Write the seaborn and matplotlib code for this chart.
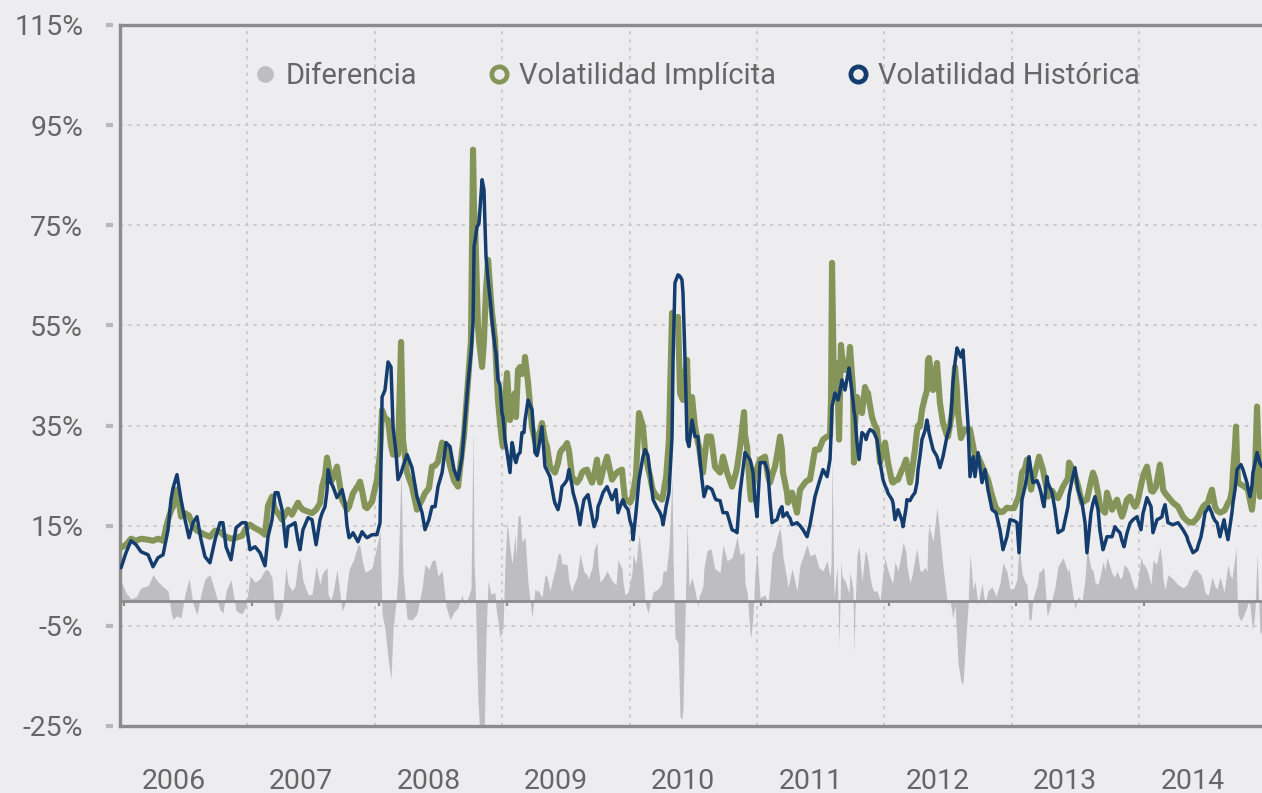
import matplotlib
matplotlib.use('Agg')
import matplotlib.pyplot as plt
from matplotlib.lines import Line2D
import numpy as np
import pandas as pd
import seaborn as sns

# fechas en años decimales, volatilidades en %
fecha_2006 = [2006.008, 2006.047, 2006.086, 2006.126, 2006.165, 2006.220, 2006.259, 2006.298,
              2006.338, 2006.377, 2006.400, 2006.416, 2006.447, 2006.479, 2006.510, 2006.542,
              2006.573, 2006.604, 2006.636, 2006.667, 2006.706, 2006.746, 2006.785, 2006.808,
              2006.832, 2006.871, 2006.911, 2006.958, 2006.989]
impl_2006 = [10.6, 11.2, 12.4, 12.0, 12.4, 12.2, 12.0, 12.4, 12.0, 16.2, 18.0, 18.8, 22.2, 16.8,
             17.5, 17.0, 15.0, 14.0, 13.6, 13.2, 12.8, 14.0, 13.8, 13.2, 12.8, 12.4, 12.6, 13.0, 14.5]
hist_2006 = [6.6, 9.6, 12.0, 11.2, 9.8, 9.2, 6.8, 8.6, 9.2, 14.2, 20.2, 22.5, 25.2, 20.2,
             16.2, 12.6, 15.6, 16.8, 12.2, 8.8, 7.6, 12.2, 15.6, 15.6, 10.8, 8.2, 14.6, 15.6, 15.6]

fecha_2007 = [2007.020, 2007.060, 2007.099, 2007.138, 2007.162, 2007.193, 2007.217, 2007.240,
              2007.272, 2007.303, 2007.319, 2007.350, 2007.374, 2007.397, 2007.413, 2007.436,
              2007.476, 2007.507, 2007.539, 2007.570, 2007.586, 2007.609, 2007.625, 2007.633,
              2007.656, 2007.672, 2007.703, 2007.743, 2007.766, 2007.782, 2007.798, 2007.821,
              2007.829, 2007.868, 2007.884, 2007.900, 2007.923, 2007.939, 2007.978]
impl_2007 = [15.2, 14.5, 14.0, 13.2, 19.0, 20.8, 18.2, 17.5, 16.2, 17.5, 18.2, 17.2, 18.5, 19.6,
             18.8, 18.2, 17.8, 17.5, 18.2, 19.5, 22.8, 25.0, 28.6, 27.5, 23.8, 24.5, 26.8, 20.2,
             19.0, 18.2, 18.8, 20.8, 21.5, 23.0, 23.8, 22.0, 18.8, 18.5, 19.8]
hist_2007 = [10.2, 10.8, 9.6, 7.0, 12.8, 16.2, 21.6, 21.6, 18.2, 10.8, 14.8, 15.2, 15.6, 12.0,
             10.2, 14.2, 16.6, 16.2, 11.2, 16.2, 17.5, 18.8, 22.0, 26.2, 23.6, 22.8, 20.6, 22.2,
             19.6, 15.0, 12.6, 13.2, 13.6, 11.8, 12.8, 13.8, 13.0, 12.6, 13.2]

fecha_2008 = [2008.017, 2008.041, 2008.057, 2008.080, 2008.104, 2008.127, 2008.143, 2008.166,
              2008.182, 2008.206, 2008.221, 2008.253, 2008.292, 2008.331, 2008.371, 2008.394,
              2008.425, 2008.449, 2008.473, 2008.496, 2008.528, 2008.559, 2008.590, 2008.622,
              2008.653, 2008.685, 2008.700, 2008.732, 2008.755, 2008.771, 2008.779, 2008.787,
              2008.802, 2008.810, 2008.818, 2008.842, 2008.857, 2008.865, 2008.873, 2008.889,
              2008.912, 2008.920, 2008.944, 2008.951, 2008.967, 2008.983, 2008.998]
impl_2008 = [24.2, 29.6, 38.1, 36.5, 36.1, 31.0, 29.2, 29.2, 29.2, 51.7, 32.2, 25.6, 22.8, 18.2,
             20.2, 21.5, 22.5, 26.8, 27.0, 27.8, 31.6, 30.5, 27.0, 24.0, 22.8, 30.0, 33.0, 44.1,
             52.0, 90.1, 78.0, 75.5, 62.0, 54.7, 52.0, 46.7, 52.0, 57.5, 62.0, 68.1, 60.0, 57.5,
             52.1, 48.0, 40.0, 35.5, 32.0]
hist_2008 = [13.2, 15.6, 40.7, 42.1, 47.7, 46.7, 34.8, 29.6, 24.2, 25.5, 26.8, 29.2, 26.6, 20.8,
             17.6, 14.2, 16.2, 18.8, 18.8, 22.8, 25.6, 31.6, 30.8, 26.2, 24.2, 28.8, 33.6, 43.5,
             49.5, 55.5, 70.7, 72.0, 74.7, 75.0, 75.5, 84.1, 82.1, 75.0, 68.7, 64.1, 58.7, 56.0,
             50.5, 49.5, 44.1, 43.0, 37.5]

fecha_2009 = [2009.006, 2009.022, 2009.038, 2009.061, 2009.077, 2009.085, 2009.100, 2009.108,
              2009.124, 2009.140, 2009.155, 2009.171, 2009.179, 2009.203, 2009.234, 2009.257,
              2009.273, 2009.281, 2009.312, 2009.336, 2009.352, 2009.375, 2009.407, 2009.414,
              2009.438, 2009.454, 2009.469, 2009.493, 2009.509, 2009.524, 2009.548, 2009.556,
              2009.587, 2009.611, 2009.626, 2009.642, 2009.666, 2009.674, 2009.705, 2009.721,
              2009.744, 2009.752, 2009.768, 2009.791, 2009.823, 2009.862, 2009.893, 2009.909,
              2009.940, 2009.948, 2009.964, 2009.988]
impl_2009 = [30.8, 40.0, 45.5, 36.1, 39.0, 40.0, 41.5, 36.7, 46.1, 46.7, 45.3, 46.0, 48.7, 43.5,
             34.8, 32.0, 30.8, 32.0, 35.5, 32.0, 30.8, 26.8, 25.8, 25.6, 27.5, 29.6, 30.2, 30.8,
             31.5, 30.0, 24.8, 24.5, 23.6, 24.5, 25.6, 26.0, 26.2, 25.5, 23.6, 25.0, 28.2, 26.0,
             23.6, 26.0, 28.8, 24.2, 25.4, 25.8, 26.2, 24.0, 20.2, 20.0]
hist_2009 = [36.7, 32.2, 29.6, 25.6, 31.6, 30.8, 28.2, 27.6, 29.2, 29.6, 33.6, 33.6, 36.0, 40.1,
             38.1, 29.6, 29.0, 29.8, 34.8, 26.8, 26.0, 24.8, 20.2, 19.5, 18.2, 20.0, 22.8, 23.5,
             24.2, 26.2, 23.0, 21.6, 18.8, 15.2, 18.0, 20.2, 21.0, 21.2, 17.0, 14.8, 16.5, 18.8,
             19.8, 21.6, 22.8, 20.2, 22.2, 17.6, 19.8, 20.2, 19.0, 18.2]

fecha_2010 = [2010.003, 2010.019, 2010.027, 2010.050, 2010.074, 2010.105, 2010.121, 2010.144,
              2010.160, 2010.176, 2010.184, 2010.215, 2010.239, 2010.254, 2010.262, 2010.278,
              2010.286, 2010.309, 2010.333, 2010.341, 2010.356, 2010.380, 2010.396, 2010.411,
              2010.419, 2010.435, 2010.451, 2010.466, 2010.490, 2010.513, 2010.537, 2010.545,
              2010.568, 2010.576, 2010.584, 2010.608, 2010.639, 2010.647, 2010.670, 2010.678,
              2010.710, 2010.733, 2010.765, 2010.804, 2010.835, 2010.843, 2010.867, 2010.898,
              2010.906, 2010.922, 2010.945, 2010.953, 2010.969, 2010.984]
impl_2010 = [19.6, 20.5, 21.5, 25.0, 37.5, 34.8, 30.0, 26.5, 25.0, 22.8, 22.0, 20.8, 20.5, 20.2,
             21.0, 23.6, 24.5, 32.2, 57.5, 57.0, 56.1, 56.7, 41.5, 40.5, 40.1, 45.0, 48.1, 33.6,
             40.7, 34.8, 31.5, 30.8, 26.5, 25.6, 27.5, 32.8, 32.8, 31.5, 26.8, 26.5, 25.6, 28.8,
             25.6, 22.8, 25.6, 26.5, 30.8, 37.7, 33.0, 30.8, 22.0, 20.2, 23.0, 25.6]
hist_2010 = [16.0, 14.8, 12.2, 17.6, 24.2, 28.8, 30.2, 29.0, 25.6, 22.0, 20.2, 18.6, 17.6, 16.5,
             15.2, 17.5, 18.8, 21.6, 32.8, 48.1, 63.5, 65.1, 64.8, 64.1, 61.5, 48.1, 32.2, 30.8,
             36.1, 32.8, 32.8, 30.0, 24.2, 22.5, 20.8, 22.8, 22.4, 22.2, 20.6, 20.2, 20.0, 17.6,
             17.6, 14.2, 13.8, 13.6, 21.6, 28.0, 29.6, 29.0, 28.2, 27.5, 25.6, 20.0]

fecha_2011 = [2011.000, 2011.024, 2011.063, 2011.086, 2011.102, 2011.118, 2011.141, 2011.157,
              2011.181, 2011.196, 2011.204, 2011.236, 2011.243, 2011.259, 2011.275, 2011.314,
              2011.338, 2011.361, 2011.377, 2011.393, 2011.416, 2011.455, 2011.487, 2011.518,
              2011.550, 2011.573, 2011.581, 2011.589, 2011.604, 2011.612, 2011.628, 2011.636,
              2011.644, 2011.659, 2011.667, 2011.691, 2011.722, 2011.730, 2011.746, 2011.754,
              2011.761, 2011.769, 2011.785, 2011.801, 2011.824, 2011.848, 2011.856, 2011.871,
              2011.887, 2011.903, 2011.918, 2011.942, 2011.966, 2011.989]
impl_2011 = [26.5, 28.2, 28.8, 25.0, 23.6, 25.0, 26.8, 29.0, 32.8, 30.0, 25.6, 21.6, 19.6, 21.0,
             21.6, 17.6, 22.2, 23.0, 23.6, 24.0, 24.2, 30.2, 30.2, 32.2, 32.8, 33.0, 40.0, 67.5,
             41.5, 44.0, 47.5, 40.0, 32.2, 51.1, 49.0, 46.1, 48.0, 50.7, 45.0, 42.1, 27.6, 35.0,
             40.7, 39.0, 37.5, 42.7, 42.0, 41.5, 39.0, 36.7, 35.5, 34.2, 27.6, 30.0]
hist_2011 = [16.8, 27.6, 27.6, 25.6, 20.0, 15.6, 16.0, 16.2, 18.2, 18.8, 16.8, 17.6, 17.0, 16.5,
             15.2, 15.6, 15.0, 14.2, 13.5, 12.8, 15.2, 20.8, 23.6, 26.2, 24.8, 28.2, 33.0, 38.8,
             40.5, 41.5, 40.5, 40.1, 41.0, 43.0, 44.1, 42.1, 46.5, 45.0, 41.5, 40.0, 38.0, 36.7,
             31.6, 28.2, 33.6, 33.0, 32.2, 33.5, 34.2, 34.0, 33.6, 32.2, 27.6, 24.2]

fecha_2012 = [2012.005, 2012.020, 2012.028, 2012.060, 2012.068, 2012.083, 2012.107, 2012.138,
              2012.146, 2012.170, 2012.177, 2012.201, 2012.217, 2012.240, 2012.256, 2012.264,
              2012.279, 2012.295, 2012.319, 2012.334, 2012.342, 2012.350, 2012.382, 2012.413,
              2012.436, 2012.460, 2012.491, 2012.499, 2012.515, 2012.531, 2012.538, 2012.554,
              2012.570, 2012.578, 2012.601, 2012.617, 2012.633, 2012.656, 2012.672, 2012.696,
              2012.711, 2012.735, 2012.766, 2012.790, 2012.813, 2012.845, 2012.876, 2012.907,
              2012.931, 2012.962, 2012.986]
impl_2012 = [31.6, 29.0, 27.6, 23.8, 23.6, 24.0, 24.2, 26.2, 26.5, 28.2, 27.0, 23.6, 26.0, 30.2,
             34.0, 35.0, 34.8, 38.1, 40.7, 42.0, 48.1, 48.5, 42.1, 47.5, 39.5, 35.5, 33.0, 32.8,
             35.0, 37.5, 40.0, 46.7, 42.0, 37.5, 32.5, 33.5, 34.2, 34.2, 34.2, 31.0, 28.8, 28.8,
             27.0, 25.5, 24.2, 21.0, 18.5, 17.7, 17.8, 18.6, 18.5]
hist_2012 = [23.0, 22.2, 21.5, 20.2, 19.5, 16.2, 18.2, 16.0, 14.8, 18.5, 20.2, 20.0, 20.8, 21.6,
             23.6, 26.2, 28.8, 32.2, 34.0, 36.1, 35.0, 33.6, 30.2, 28.8, 26.6, 28.8, 32.8, 33.5,
             34.8, 40.0, 43.5, 47.5, 50.5, 50.0, 48.7, 50.1, 44.1, 35.5, 24.8, 28.8, 24.8, 29.6,
             23.6, 26.2, 22.2, 18.2, 17.6, 14.2, 10.2, 12.8, 16.2]

fecha_2013 = [2013.017, 2013.041, 2013.057, 2013.080, 2013.104, 2013.119, 2013.135, 2013.151,
              2013.166, 2013.182, 2013.198, 2013.214, 2013.229, 2013.245, 2013.253, 2013.276,
              2013.284, 2013.316, 2013.339, 2013.363, 2013.402, 2013.441, 2013.449, 2013.473,
              2013.496, 2013.520, 2013.551, 2013.575, 2013.590, 2013.622, 2013.637, 2013.653,
              2013.677, 2013.692, 2013.716, 2013.732, 2013.747, 2013.787, 2013.810, 2013.826,
              2013.849, 2013.865, 2013.881, 2013.904, 2013.928, 2013.951, 2013.967, 2013.983,
              2013.991]
impl_2013 = [18.5, 20.0, 21.0, 25.6, 26.5, 28.2, 25.0, 22.2, 24.0, 25.6, 27.0, 28.8, 27.5, 26.2,
             25.0, 22.0, 20.8, 22.0, 21.0, 20.5, 22.8, 24.5, 27.6, 26.5, 25.0, 23.0, 19.6, 20.0,
             20.2, 24.0, 25.6, 24.5, 21.5, 18.8, 18.0, 17.6, 21.6, 18.2, 19.5, 20.2, 18.0, 16.8,
             18.0, 20.2, 20.8, 19.5, 18.8, 19.5, 20.2]
hist_2013 = [16.0, 15.6, 9.6, 20.2, 22.8, 25.0, 28.8, 26.0, 23.6, 23.8, 24.0, 23.0, 21.6, 19.5,
             18.8, 24.8, 23.5, 21.6, 18.2, 13.6, 14.2, 18.8, 21.0, 24.2, 26.6, 22.2, 19.6, 15.6,
             9.6, 17.6, 19.5, 20.8, 18.2, 14.0, 10.2, 11.5, 12.8, 12.8, 14.8, 14.2, 13.6, 12.0,
             10.8, 13.5, 15.5, 16.2, 16.5, 16.8, 16.0]

fecha_2014 = [2014.014, 2014.030, 2014.038, 2014.061, 2014.093, 2014.108, 2014.132, 2014.140,
              2014.163, 2014.179, 2014.187, 2014.203, 2014.226, 2014.265, 2014.305, 2014.344,
              2014.375, 2014.383, 2014.422, 2014.454, 2014.462, 2014.485, 2014.501, 2014.517,
              2014.540, 2014.548, 2014.571, 2014.579, 2014.595, 2014.611, 2014.634, 2014.666,
              2014.674, 2014.697, 2014.713, 2014.728, 2014.736, 2014.752, 2014.760, 2014.768,
              2014.776, 2014.799, 2014.815, 2014.846, 2014.854, 2014.870, 2014.885, 2014.893,
              2014.909, 2014.925, 2014.948, 2014.964]
impl_2014 = [23.0, 24.8, 25.5, 26.8, 22.0, 21.8, 22.8, 24.0, 27.2, 24.5, 22.2, 21.5, 20.8, 19.6,
             18.8, 16.8, 16.0, 15.8, 15.6, 16.5, 16.8, 18.0, 18.8, 19.2, 19.6, 20.5, 22.2, 21.0,
             18.8, 18.0, 17.6, 18.0, 18.2, 19.5, 20.2, 22.0, 25.6, 31.0, 34.8, 28.0, 23.6, 23.2,
             23.0, 22.4, 22.2, 20.0, 18.2, 20.0, 25.6, 38.8, 20.8, 21.0]
hist_2014 = [14.2, 17.5, 18.2, 20.6, 18.8, 13.6, 15.5, 16.2, 16.5, 16.8, 18.0, 19.2, 15.6, 15.2,
             15.6, 14.2, 12.8, 12.0, 9.6, 10.2, 11.0, 12.8, 15.0, 17.6, 18.5, 18.8, 17.5, 16.8,
             16.0, 15.6, 12.8, 16.2, 15.0, 12.2, 15.0, 17.6, 19.5, 22.2, 24.0, 26.2, 26.5, 27.2,
             26.2, 23.6, 22.5, 20.8, 23.0, 25.6, 27.5, 29.6, 27.5, 26.8]

fecha = (fecha_2006 + fecha_2007 + fecha_2008 + fecha_2009 + fecha_2010 +
         fecha_2011 + fecha_2012 + fecha_2013 + fecha_2014)
implicita = (impl_2006 + impl_2007 + impl_2008 + impl_2009 + impl_2010 +
             impl_2011 + impl_2012 + impl_2013 + impl_2014)
historica = (hist_2006 + hist_2007 + hist_2008 + hist_2009 + hist_2010 +
             hist_2011 + hist_2012 + hist_2013 + hist_2014)

years = [2006, 2007, 2008, 2009, 2010, 2011, 2012, 2013, 2014]
yticks = [-25, -5, 15, 35, 55, 75, 95, 115]

df = pd.DataFrame({'fecha': fecha, 'implicita': implicita, 'historica': historica})
df['diferencia'] = df['implicita'] - df['historica']

BG = '#ededef'
VERDE = '#85955a'
AZUL = '#143d6e'
GRIS = '#bebec2'
EJE = '#8c8c8c'
TEXTO = '#666666'

sns.set_theme(style='white', rc={'axes.facecolor': BG, 'figure.facecolor': BG,
                                 'axes.unicode_minus': False})
plt.rcParams['font.family'] = ['Roboto', 'DejaVu Sans']

fig = plt.figure(figsize=(12.62, 7.93), dpi=100)
ax = fig.add_axes([0.0951, 0.0845, 0.9049, 0.8840])

ax.fill_between(df['fecha'], 0, df['diferencia'], color=GRIS, lw=0, zorder=2)
ax.axhline(0, color=EJE, lw=2.0, zorder=3)
sns.lineplot(data=df, x='fecha', y='implicita', ax=ax, color=VERDE, lw=4.4,
             legend=False, zorder=4)
sns.lineplot(data=df, x='fecha', y='historica', ax=ax, color=AZUL, lw=2.5,
             legend=False, zorder=5)

ax.set_xlim(2006, 2014.964)
ax.set_ylim(-25, 115)
ax.set_xlabel('')
ax.set_ylabel('')

# grid: años (vertical) y niveles (horizontal)
ax.set_xticks(years[1:])
ax.set_xticklabels([])
ax.set_xticks([y + 0.42 for y in years], minor=True)
ax.set_xticklabels([str(y) for y in years], minor=True)
ax.tick_params(axis='x', which='both', length=0)
ax.tick_params(axis='x', which='minor', labelsize=20.5, labelcolor=TEXTO, pad=30)

ax.set_yticks(yticks)
ax.set_yticklabels([f'{v}%' for v in yticks])
ax.tick_params(axis='y', which='major', length=0, labelsize=20.5, labelcolor=TEXTO, pad=26.5)

# guiones cortos a la izquierda del eje y, separados del eje
ax.hlines(yticks, -0.0125, -0.006, transform=ax.get_yaxis_transform(),
          color='#b8b8b8', lw=3.0, clip_on=False, zorder=6)
# marcas de año bajo la línea del cero
ax.vlines([y + 0.035 for y in years], -1.0, 0, color=EJE, lw=1.6, zorder=3)

ax.grid(True, which='major', color='#c6c6c6', lw=1.2, ls=(0, (2, 3)))
ax.set_axisbelow(True)

for s in ['left', 'top', 'bottom']:
    ax.spines[s].set_color(EJE)
    ax.spines[s].set_linewidth(2.4)
ax.spines['right'].set_visible(False)

handles = [
    Line2D([], [], ls='', marker='o', ms=11, mfc=GRIS, mec=GRIS),
    Line2D([], [], ls='', marker='o', ms=11, mfc=BG, mec=VERDE, mew=3.4),
    Line2D([], [], ls='', marker='o', ms=11, mfc=BG, mec=AZUL, mew=3.4),
]
etiquetas = ['Diferencia', 'Volatilidad Implícita', 'Volatilidad Histórica']
leg = ax.legend(handles, etiquetas, loc='center', bbox_to_anchor=(0.505, 0.927),
                ncol=3, frameon=False, fontsize=21, handletextpad=0.3,
                columnspacing=2.4, handlelength=0.8)
for txt in leg.get_texts():
    txt.set_color(TEXTO)

fig.savefig('out.png', dpi=100, facecolor=BG)
